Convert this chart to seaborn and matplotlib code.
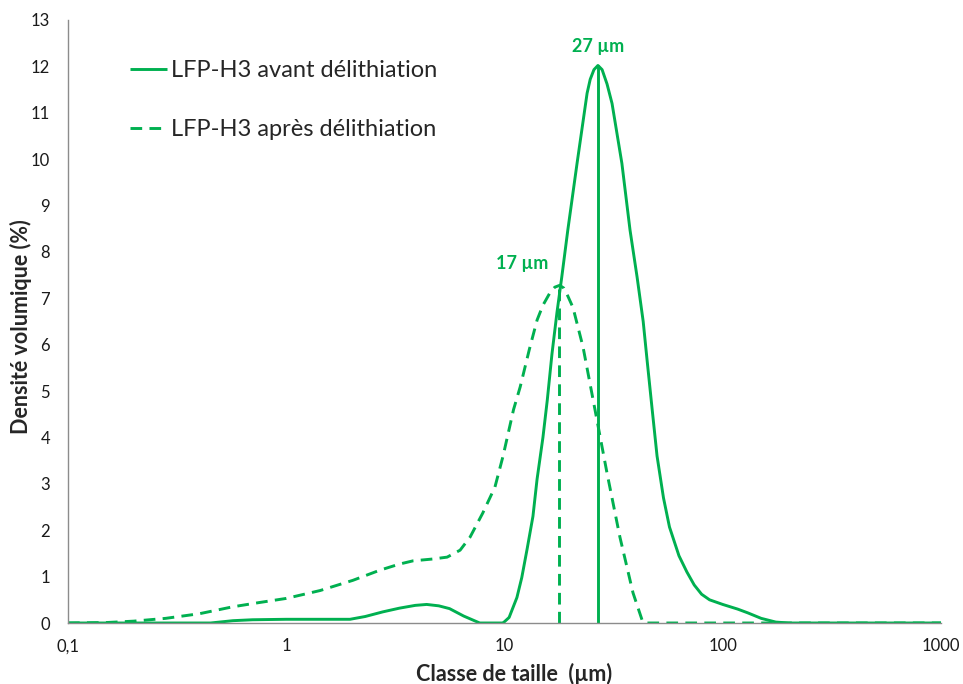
import numpy as np
import pandas as pd
import matplotlib
matplotlib.use("Agg")
import matplotlib.pyplot as plt
import seaborn as sns
from matplotlib.ticker import FixedLocator, FixedFormatter, LogLocator, NullFormatter

# ---- data ----
size_avant = [0.1, 0.2, 0.3, 0.45, 0.57, 0.7, 1.0, 1.5, 1.96, 2.3, 2.77, 3.3, 3.9, 4.4,
              5.0, 5.6, 6.5, 7.7, 9.0, 9.85, 10.5, 11.4, 12.0, 12.7, 13.5, 14.1, 15.0,
              15.7, 16.5, 17.4, 18.3, 19.5, 21.5, 23.9, 24.7, 25.7, 26.8, 28.0, 29.5,
              31.1, 34.5, 37.6, 40.5, 43.2, 45.0, 47.5, 50.0, 53.5, 57.0, 63.0, 68.5,
              74.0, 80.0, 87.0, 100.0, 117.0, 130.0, 150.0, 175.0, 200.0, 1000.0]
dens_avant = [0.0, 0.0, 0.0, 0.0, 0.05, 0.07, 0.08, 0.08, 0.08, 0.14, 0.24, 0.32, 0.38, 0.40,
              0.37, 0.31, 0.15, 0.0, 0.0, 0.0, 0.12, 0.55, 0.98, 1.6, 2.3, 3.1, 4.0,
              4.8, 5.8, 6.7, 7.46, 8.47, 9.91, 11.42, 11.72, 11.93, 12.02, 11.93, 11.62,
              11.2, 9.91, 8.47, 7.46, 6.5, 5.67, 4.6, 3.6, 2.7, 2.07, 1.45, 1.1,
              0.82, 0.62, 0.5, 0.4, 0.3, 0.22, 0.1, 0.02, 0.0, 0.0]

size_apres = [0.1, 0.15, 0.2, 0.28, 0.4, 0.57, 0.75, 1.0, 1.43, 2.02, 2.69, 3.3, 3.81, 4.7,
              5.46, 6.26, 6.95, 7.95, 9.04, 9.85, 11.0, 11.8, 13.0, 14.1, 15.0, 16.2, 17.0,
              17.9, 18.7, 19.5, 20.6, 22.9, 26.0, 29.5, 33.8, 38.8, 43.0, 45.0, 100.0, 1000.0]
dens_apres = [0.0, 0.01, 0.04, 0.1, 0.2, 0.35, 0.44, 0.53, 0.7, 0.92, 1.14, 1.27, 1.34, 1.38,
              1.42, 1.57, 1.85, 2.37, 2.93, 3.6, 4.6, 5.09, 5.9, 6.53, 6.85, 7.13, 7.24,
              7.28, 7.22, 7.05, 6.8, 5.95, 4.59, 3.23, 1.85, 0.65, 0.02, 0.0, 0.0, 0.0]

series_names = ["LFP-H3 avant délithiation", "LFP-H3 après délithiation"]
peak_pos = [26.8, 17.8]
peak_val = [12.02, 7.25]
peak_labels = ["27 µm", "17 µm"]
label_x = [26.8, 12.0]
label_y = [12.43, 7.74]

x_ticks = [0.1, 1, 10, 100, 1000]
x_ticklabels = ["0,1", "1", "10", "100", "1000"]
y_ticks = list(range(0, 14))

green = "#00B050"

df = pd.concat([
    pd.DataFrame({"size": size_avant, "dens": dens_avant, "serie": series_names[0]}),
    pd.DataFrame({"size": size_apres, "dens": dens_apres, "serie": series_names[1]}),
], ignore_index=True)

sns.set_style("white")
plt.rcParams["font.family"] = ["Lato", "DejaVu Sans"]

fig = plt.figure(figsize=(9.63, 6.84), dpi=100)
ax = fig.add_axes([68 / 963, 1 - 623 / 684, (941 - 68) / 963, (623 - 20) / 684])

sns.lineplot(data=df, x="size", y="dens", hue="serie", style="serie",
             palette=[green, green], dashes=[(1, 0), (4, 2.5)],
             estimator=None, sort=False, linewidth=2.1, ax=ax)

# drop lines at modes
ax.vlines(peak_pos[0], 0, peak_val[0], colors=green, linewidth=2.1)
ax.vlines(peak_pos[1], 0, peak_val[1], colors=green, linewidth=2.1, linestyles=(0, (4, 2.5)))
for xv, yv, t in zip(label_x, label_y, peak_labels):
    ax.text(xv, yv, t, ha="center", va="center", color=green, fontsize=13, fontweight="bold")

ax.set_xscale("log")
ax.set_xlim(0.1, 1000)
ax.set_ylim(0, 13)
ax.xaxis.set_major_locator(FixedLocator(x_ticks))
ax.xaxis.set_major_formatter(FixedFormatter(x_ticklabels))
ax.xaxis.set_minor_locator(LogLocator(base=10, subs=np.arange(2, 10)))
ax.xaxis.set_minor_formatter(NullFormatter())
ax.set_yticks(y_ticks)

for s in ["top", "right"]:
    ax.spines[s].set_visible(False)
for s in ["left", "bottom"]:
    ax.spines[s].set_color("#8c8c8c")
    ax.spines[s].set_linewidth(1.0)
ax.tick_params(axis="both", which="both", direction="out", color="#8c8c8c", width=1.0,
               labelsize=12, labelcolor="#1a1a1a")
ax.tick_params(axis="x", which="major", length=5, pad=6)
ax.tick_params(axis="x", which="minor", length=5)
ax.tick_params(axis="y", which="major", length=5, pad=8)

ax.set_xlabel("Classe de taille  (µm)", fontsize=15.5, fontweight="bold")
ax.set_ylabel("Densité volumique (%)", fontsize=15.5, fontweight="bold")
ax.xaxis.set_label_coords(0.511, -0.066)
ax.yaxis.set_label_coords(-0.041, 0.491)

leg = ax.legend(loc="upper left", bbox_to_anchor=(130 / 963, 1 - 60 / 684),
                bbox_transform=fig.transFigure, frameon=False, borderpad=0, borderaxespad=0,
                fontsize=17, handlelength=1.57, handletextpad=0.17, labelspacing=1.6)
leg.set_title(None)

fig.savefig("out.png", dpi=100)
